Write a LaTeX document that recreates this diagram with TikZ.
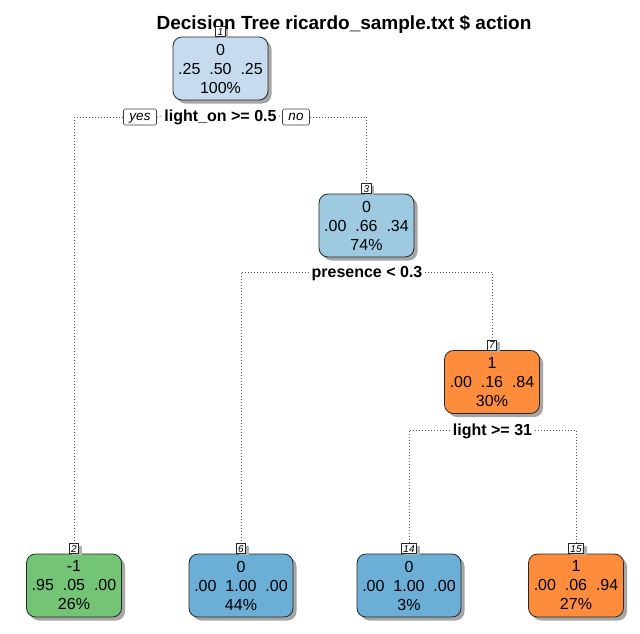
\documentclass[tikz,border=0pt]{standalone}
\usepackage{fontspec}
\setmainfont{Liberation Sans}
\usetikzlibrary{shadows}
\definecolor{cA}{HTML}{C6DBEF}
\definecolor{cB}{HTML}{9ECAE1}
\definecolor{cC}{HTML}{6BAED6}
\definecolor{cG}{HTML}{74C476}
\definecolor{cO}{HTML}{FD8D3C}
\definecolor{edgec}{HTML}{555555}
\tikzset{
  treebox/.style={rectangle, rounded corners=9pt, draw=black!85, line width=0.8pt,
    minimum width=95pt, minimum height=63pt, inner sep=0pt, align=center,
    font=\fontsize{16}{19}\selectfont,
    drop shadow={shadow xshift=3.5pt, shadow yshift=-3.5pt, fill=black!35, opacity=1}},
  wide/.style={minimum width=104pt},
  numlbl/.style={rectangle, draw=black!85, line width=0.6pt, fill=white, anchor=south,
    inner xsep=2pt, inner ysep=0.8pt, text height=7.5pt, text depth=0.5pt,
    font=\itshape\fontsize{10}{10}\selectfont,
    drop shadow={shadow xshift=3pt, shadow yshift=-2pt, fill=black!30, opacity=1}},
  splitlbl/.style={fill=white, inner xsep=2.5pt, inner ysep=1pt, text height=11.5pt, text depth=0pt,
    font=\bfseries\fontsize{16}{16}\selectfont},
  yn/.style={rectangle, rounded corners=1.5pt, draw=black!75, line width=0.6pt, fill=white,
    inner xsep=6pt, inner ysep=0pt, text height=10pt, text depth=3pt, minimum height=16pt,
    font=\itshape\fontsize{13.5}{13.5}\selectfont},
  edge/.style={draw=edgec, line width=0.9pt, dash pattern=on 0.9pt off 2.1pt},
}
\begin{document}
\begin{tikzpicture}[x=1pt,y=-1pt]
\useasboundingbox[fill=white] (0,0) rectangle (640,633);
\node[font=\bfseries\fontsize{19}{22}\selectfont, anchor=base] (title) at (344,29) {Decision Tree ricardo\_sample.txt \$ action};

% boxes
\node[treebox, fill=cA] (n1) at (220.5,68.5) {0\\.25~~.50~~.25\\100\%};
\node[treebox, fill=cB] (n3) at (366.5,225.5) {0\\.00~~.66~~.34\\74\%};
\node[treebox, fill=cO] (n7) at (492,382) {1\\.00~~.16~~.84\\30\%};
\node[treebox, fill=cG] (n2) at (74,585.5) {-1\\.95~~.05~~.00\\26\%};
\node[treebox, wide, fill=cC] (n6) at (241,585.5) {0\\.00~~1.00~~.00\\44\%};
\node[treebox, wide, fill=cC] (n14) at (409,585.5) {0\\.00~~1.00~~.00\\3\%};
\node[treebox, fill=cO] (n15) at (576,585.5) {1\\.00~~.06~~.94\\27\%};

% number labels
\node[numlbl] (k1) at (n1.north) {1};
\node[numlbl] (k3) at (n3.north) {3};
\node[numlbl] (k7) at (n7.north) {7};
\node[numlbl] (k2) at (n2.north) {2};
\node[numlbl] (k6) at (n6.north) {6};
\node[numlbl] (k14) at (n14.north) {14};
\node[numlbl] (k15) at (n15.north) {15};

% split labels
\node[splitlbl] (s1) at (220.5,116) {light\_on >= 0.5};
\node[splitlbl] (s3) at (367,272) {presence < 0.3};
\node[splitlbl] (s7) at (492.5,430) {light >= 31};
\node[yn] (yes1) at (140,117) {yes};
\node[yn] (no1) at (296,117) {no};

% connectors
\draw[edge] (k2.north) |- (yes1.west);
\draw[edge] (yes1.east) -- (s1.west);
\draw[edge] (s1.east) -- (no1.west);
\draw[edge] (no1.east) -| (k3.north);
\draw[edge] (s3.west) -| (k6.north);
\draw[edge] (s3.east) -| (k7.north);
\draw[edge] (s7.west) -| (k14.north);
\draw[edge] (s7.east) -| (k15.north);
\end{tikzpicture}
\end{document}
